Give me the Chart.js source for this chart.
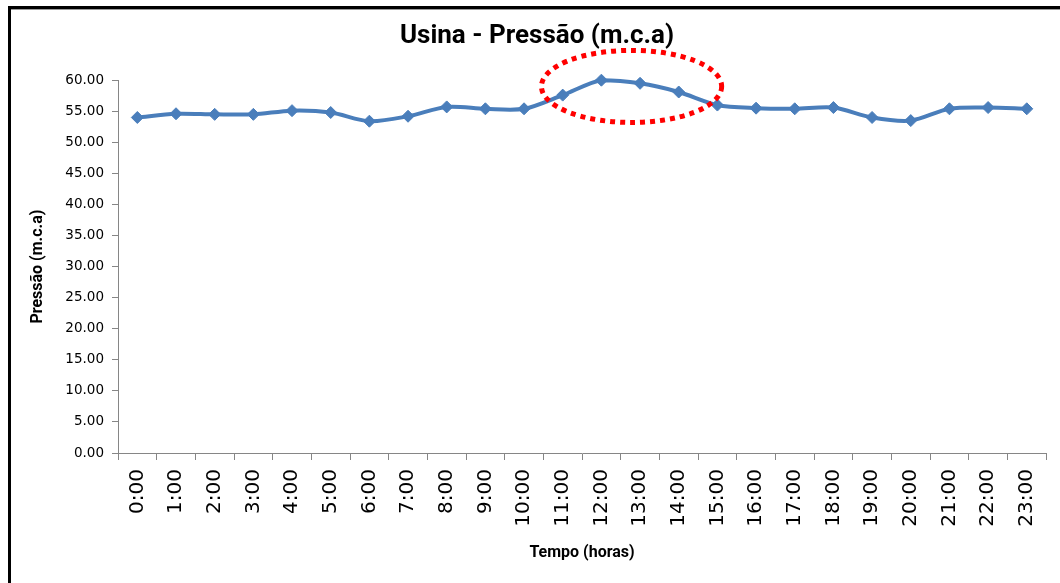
<!DOCTYPE html>
<html>
<head>
<meta charset="utf-8">
<script src="https://cdn.jsdelivr.net/npm/chart.js@4"></script>
<style>
  html, body { margin: 0; padding: 0; background: #fff; overflow: hidden; }
  #wrap { position: relative; width: 1060px; height: 583px; }
  #frame {
    position: absolute; left: 8px; top: 6px; width: 1100px; height: 600px;
    border-left: 3px solid #000; border-top: 3px solid #000;
    box-shadow: inset 0 1px 0 #9a9a9a;
    pointer-events: none;
  }
</style>
</head>
<body>
<div id="wrap">
  <canvas id="pressao" width="1060" height="583"></canvas>
  <div id="frame"></div>
</div>
<script>
// horas do dia
const horas = ["0:00","1:00","2:00","3:00","4:00","5:00","6:00","7:00","8:00","9:00","10:00","11:00",
               "12:00","13:00","14:00","15:00","16:00","17:00","18:00","19:00","20:00","21:00","22:00","23:00"];

// pressão na usina (m.c.a)
const pressao = [54.0, 54.6, 54.5, 54.5, 55.1, 54.8, 53.4, 54.2, 55.7, 55.4, 55.4, 57.6,
                 60.0, 59.5, 58.1, 56.0, 55.5, 55.4, 55.6, 54.0, 53.5, 55.4, 55.6, 55.4];

const yMin = 0;
const yMax = 60;
const yStep = 5;

// destaque do pico (centro e raios em unidades do gráfico)
const destaque = { x: 12.78, y: 59.0, rx: 2.33, ry: 5.8 };

const axisColor = "#868686";
const lineColor = "#4A7EBB";
const titleFont = "'Liberation Sans Narrow', 'Roboto', sans-serif";

// elipse pontilhada vermelha por cima do pico
const destaquePlugin = {
  id: "destaque",
  afterDatasetsDraw(chart) {
    const xs = chart.scales.x, ys = chart.scales.y;
    const step = xs.getPixelForValue(1) - xs.getPixelForValue(0);
    const cx = xs.getPixelForValue(0) + destaque.x * step;
    const cy = ys.getPixelForValue(destaque.y);
    const rx = destaque.rx * step;
    const ry = Math.abs(ys.getPixelForValue(destaque.y + destaque.ry) - cy);
    const ctx = chart.ctx;
    ctx.save();
    ctx.beginPath();
    ctx.ellipse(cx, cy, rx, ry, 0, 0, Math.PI * 2);
    ctx.strokeStyle = "#FF0000";
    ctx.lineWidth = 5;
    ctx.setLineDash([5, 5]);
    ctx.stroke();
    ctx.restore();
  }
};

new Chart(document.getElementById("pressao"), {
  type: "line",
  data: {
    labels: horas,
    datasets: [{
      data: pressao,
      clip: false,
      borderColor: lineColor,
      backgroundColor: lineColor,
      borderWidth: 4,
      tension: 0.3,
      pointStyle: "rectRot",
      pointRadius: 6,
      pointBackgroundColor: lineColor,
      pointBorderColor: lineColor,
      pointBorderWidth: 1
    }]
  },
  options: {
    responsive: false,
    animation: false,
    layout: { padding: { left: 25, right: 11, top: 0, bottom: 16 } },
    plugins: {
      legend: { display: false },
      tooltip: { enabled: false },
      title: {
        display: true,
        text: "Usina - Pressão (m.c.a)",
        color: "#000",
        font: { family: titleFont, size: 26, weight: "bold", lineHeight: 1.2 },
        padding: { top: 21, bottom: 28 }
      }
    },
    scales: {
      x: {
        offset: true,
        border: { display: true, color: axisColor, width: 1 },
        grid: { offset: true, drawOnChartArea: false, drawTicks: true, tickLength: 7, color: axisColor },
        ticks: {
          autoSkip: false, minRotation: 90, maxRotation: 90, padding: 9,
          color: "#000",
          font: { family: "'DejaVu Sans', sans-serif", size: 20 }
        },
        title: {
          display: true, text: "Tempo (horas)", color: "#000",
          font: { family: titleFont, size: 16, weight: "bold", lineHeight: 1.2 },
          padding: { top: 4, bottom: 4 }
        },
        afterFit(scale) { scale.height = 114; }
      },
      y: {
        min: yMin, max: yMax,
        border: { display: true, color: axisColor, width: 1 },
        grid: { drawOnChartArea: false, drawTicks: true, tickLength: 6, color: axisColor },
        ticks: {
          stepSize: yStep, padding: 8, color: "#000",
          font: { family: "'DejaVu Sans', sans-serif", size: 13.5 },
          callback: v => v.toFixed(2)
        },
        title: {
          display: true, text: "Pressão (m.c.a)", color: "#000",
          font: { family: titleFont, size: 16, weight: "bold", lineHeight: 1.2 },
          padding: { top: 3, bottom: 4 }
        },
        afterFit(scale) { scale.width = 93; }
      }
    }
  },
  plugins: [destaquePlugin]
});
</script>
</body>
</html>
